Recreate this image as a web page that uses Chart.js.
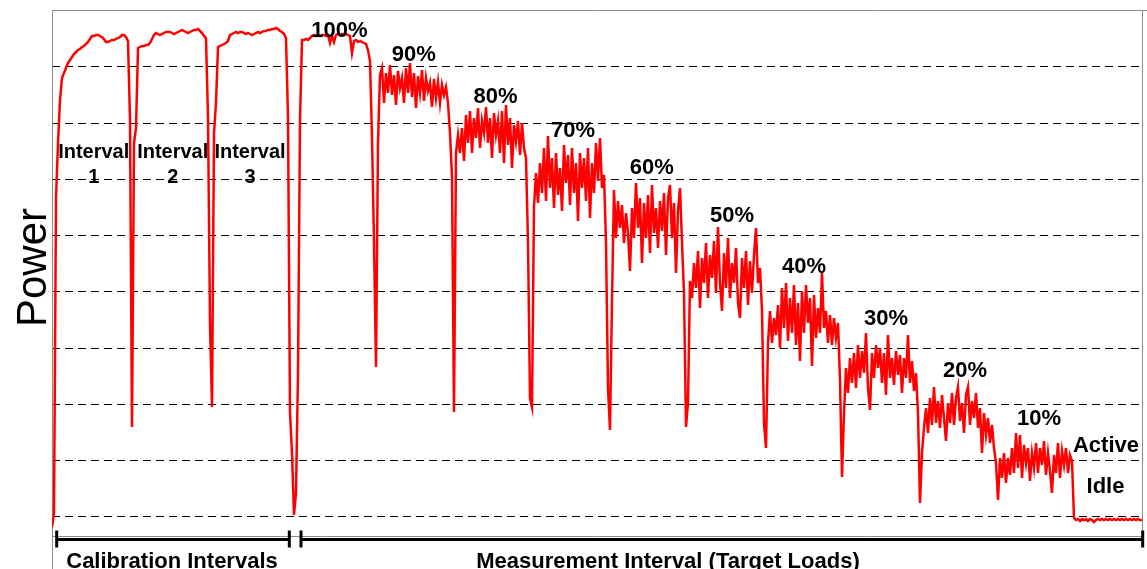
<!DOCTYPE html>
<html>
<head>
<meta charset="utf-8">
<script src="https://cdn.jsdelivr.net/npm/chart.js@4.4.1/dist/chart.umd.min.js"></script>
<style>
  html, body { margin: 0; padding: 0; background: #fff; }
  canvas { display: block; }
</style>
</head>
<body>
<canvas id="powerChart" width="1147" height="569"></canvas>
<script>
// power samples, one every 2 s (arbitrary power units)
const sampleStep = 2;

const calibration = [
  46, 60, 375, 430, 473, 495, 500, 505, 510, 513,
  516, 519, 521, 523, 524, 526, 527, 529, 531, 534,
  537, 537, 538, 538, 537, 536, 534, 531, 531, 532,
  533, 533, 534, 535, 536, 538, 538, 536, 532, 453,
  146, 430, 445, 525, 526, 527, 527, 528, 528, 530,
  534, 538, 540, 539, 538, 539, 540, 541, 541, 541,
  540, 539, 540, 541, 542, 543, 542, 541, 540, 541,
  542, 543, 543, 544, 542, 540, 537, 535, 456, 250,
  166, 440, 470, 526, 527, 528, 529, 530, 532, 538,
  539, 540, 541, 540, 541, 541, 540, 539, 540, 539,
  538, 539, 540, 541, 540, 541, 542, 542, 543, 543,
  544, 544, 545, 544, 542, 541, 539, 535, 456, 160,
  120, 58, 80, 200, 453
];
const load100 = [
  533, 533, 534, 533, 535, 537, 538, 537, 538, 537,
  538, 538, 537, 538, 530, 537, 531, 538, 539, 538,
  539, 538, 539, 538, 537, 520, 532, 533, 531, 532,
  531, 530, 529, 523, 512, 436, 330, 206, 430
];
const load90 = [
  498, 505, 470, 500, 480, 508, 478, 498, 468, 502,
  485, 495, 470, 505, 480, 510, 476, 500, 465, 497,
  480, 503, 472, 495, 482, 490, 466, 494, 475, 491,
  470, 488, 478, 486, 470, 440, 396, 161, 420
];
const load80 = [
  438, 420, 445, 412, 458, 430, 462, 420, 455, 435,
  465, 425, 452, 440, 466, 430, 455, 415, 460, 438,
  452, 420, 462, 410, 468, 428, 455, 405, 448, 432,
  452, 418, 450, 425, 415, 330, 175, 166, 366
];
const load70 = [
  400, 370, 410, 380, 425, 372, 437, 385, 415, 365,
  420, 378, 405, 362, 428, 390, 418, 368, 425, 380,
  410, 352, 420, 385, 415, 372, 425, 355, 410, 380,
  430, 392, 435, 385, 398, 330, 185, 143, 273
];
const load60 = [
  383, 335, 372, 345, 368, 330, 360, 340, 302, 365,
  335, 390, 345, 375, 310, 370, 335, 378, 320, 388,
  340, 365, 325, 372, 342, 380, 318, 375, 388, 335,
  370, 300, 362, 385, 330, 280, 146, 170, 292
];
const load50 = [
  275, 310, 285, 322, 265, 315, 290, 330, 275, 318,
  295, 332, 280, 346, 290, 262, 320, 285, 335, 275,
  310, 290, 325, 270, 255, 315, 285, 322, 268, 312,
  280, 318, 345, 290, 305, 262, 150, 125, 230
];
const load40 = [
  262, 230, 255, 238, 268, 225, 285, 245, 290, 232,
  275, 240, 288, 228, 270, 212, 282, 240, 288, 250,
  275, 207, 278, 235, 265, 240, 300, 245, 262, 230,
  258, 228, 255, 235, 250, 193, 96, 160, 205
];
const load30 = [
  180, 215, 190, 220, 185, 228, 195, 222, 200, 240,
  185, 163, 220, 195, 228, 205, 225, 190, 220, 178,
  238, 195, 215, 188, 222, 198, 218, 180, 215, 195,
  238, 190, 212, 182, 200, 160, 70, 120, 145
];
const load20 = [
  165, 140, 175, 148, 186, 150, 172, 145, 178, 155,
  132, 170, 150, 180, 148, 175, 186, 152, 170, 140,
  178, 186, 148, 172, 155, 180, 145, 165, 120, 160,
  138, 155, 130, 148, 125, 110, 73, 115
];
const load10 = [
  95, 120, 90, 115, 98, 125, 100, 140, 105, 138,
  95, 128, 110, 125, 92, 120, 105, 130, 100, 125,
  108, 132, 98, 120, 102, 80, 118, 100, 130, 95,
  122, 108, 125, 100, 118, 112
];
const activeIdle = [
  55, 53, 54, 52, 54, 53, 54, 52, 54, 53,
  51, 53, 54, 53, 54, 53, 54, 53, 54, 53,
  54, 53, 54, 53, 54, 53, 54, 53, 54, 53,
  54, 53, 54, 53, 53
];

// dashed reference levels
const gridLevels = [56.25, 112.5, 168.75, 225, 281.25, 337.5, 393.75, 450, 506.25];

// text annotations (time, power of baseline)
const loadLabels = ["100%", "90%", "80%", "70%", "60%", "50%", "40%", "30%", "20%", "10%", "Active", "Idle"];
const loadLabelT = [287.5, 361.7, 443.5, 521, 599.7, 680, 752, 834, 913, 987, 1054, 1053.5];
const loadLabelP = [536, 512, 470, 436, 399, 351, 300, 248, 196, 148, 121, 80];

const intervalT = [41.7, 120.7, 198];
const intervalNames = ["1", "2", "3"];

const bracketNames = ["Calibration Intervals", "Measurement Interval (Target Loads)"];
const bracketFrom = [4.7, 249];
const bracketTo = [237.3, 1090.7];
const bracketTextT = [120, 616];

const power = [calibration, load100, load90, load80, load70, load60,
  load50, load40, load30, load20, load10, activeIdle].flat();
const points = power.map((p, i) => ({ x: i * sampleStep, y: p }));

const FONT = "'Liberation Sans', Arial, Helvetica, sans-serif";

const decorations = {
  id: "decorations",
  beforeDatasetsDraw(chart) {
    const { ctx, chartArea: a } = chart;
    ctx.save();
    ctx.strokeStyle = "#8c8c8c";
    ctx.lineWidth = 1;
    ctx.beginPath();
    ctx.moveTo(a.left + 0.5, a.top);
    ctx.lineTo(a.left + 0.5, chart.height);
    ctx.moveTo(a.left, a.top + 0.5);
    ctx.lineTo(chart.width, a.top + 0.5);
    ctx.moveTo(a.right - 0.5, a.top);
    ctx.lineTo(a.right - 0.5, a.bottom);
    ctx.moveTo(a.left, a.bottom - 0.5);
    ctx.lineTo(a.right, a.bottom - 0.5);
    ctx.stroke();
    ctx.restore();
  },
  afterDatasetsDraw(chart) {
    const { ctx, chartArea: a, scales: { x, y } } = chart;
    ctx.save();
    ctx.fillStyle = "#000";
    ctx.textAlign = "center";
    ctx.textBaseline = "alphabetic";

    ctx.font = "bold 22px " + FONT;
    loadLabels.forEach((txt, i) => {
      ctx.fillText(txt, x.getPixelForValue(loadLabelT[i]), y.getPixelForValue(loadLabelP[i]));
    });

    ctx.font = "bold 20px " + FONT;
    intervalT.forEach((t, i) => {
      const px = x.getPixelForValue(t);
      ctx.fillText("Interval", px, y.getPixelForValue(415));
      ctx.fillText(intervalNames[i], px, y.getPixelForValue(390));
    });

    // brackets under the plot
    const by = a.bottom + 2.5;
    ctx.strokeStyle = "#000";
    ctx.lineWidth = 3;
    bracketNames.forEach((txt, i) => {
      const x0 = x.getPixelForValue(bracketFrom[i]);
      const x1 = x.getPixelForValue(bracketTo[i]);
      ctx.beginPath();
      ctx.moveTo(x0, by);
      ctx.lineTo(x1, by);
      ctx.moveTo(x0, by - 9);
      ctx.lineTo(x0, by + 8);
      ctx.moveTo(x1, by - 9);
      ctx.lineTo(x1, by + 8);
      ctx.stroke();
    });
    ctx.font = "bold 22px " + FONT;
    bracketNames.forEach((txt, i) => {
      ctx.fillText(txt, x.getPixelForValue(bracketTextT[i]), a.bottom + 30.5);
    });

    // axis title
    ctx.font = "42px " + FONT;
    ctx.translate(46, (a.top + a.bottom) / 2 - 6);
    ctx.rotate(-Math.PI / 2);
    ctx.fillText("Power", 0, 0);
    ctx.restore();
  }
};

new Chart(document.getElementById("powerChart"), {
  type: "line",
  data: {
    datasets: [{
      label: "Power",
      data: points,
      borderColor: "#ff0000",
      borderWidth: 2.5,
      pointRadius: 0,
      tension: 0,
      fill: false
    }]
  },
  options: {
    responsive: false,
    animation: false,
    devicePixelRatio: 1,
    layout: { padding: { left: 52, top: 10, right: 4, bottom: 32 } },
    plugins: {
      legend: { display: false },
      tooltip: { enabled: false }
    },
    scales: {
      x: {
        type: "linear",
        min: 0,
        max: 1091,
        display: false
      },
      y: {
        type: "linear",
        min: 36,
        max: 563,
        afterBuildTicks: axis => {
          axis.ticks = gridLevels.map(v => ({ value: v }));
        },
        ticks: { display: false },
        grid: { color: "#000", lineWidth: 1, drawTicks: false },
        border: { display: false, dash: [8, 5] }
      }
    }
  },
  plugins: [decorations]
});
</script>
</body>
</html>
